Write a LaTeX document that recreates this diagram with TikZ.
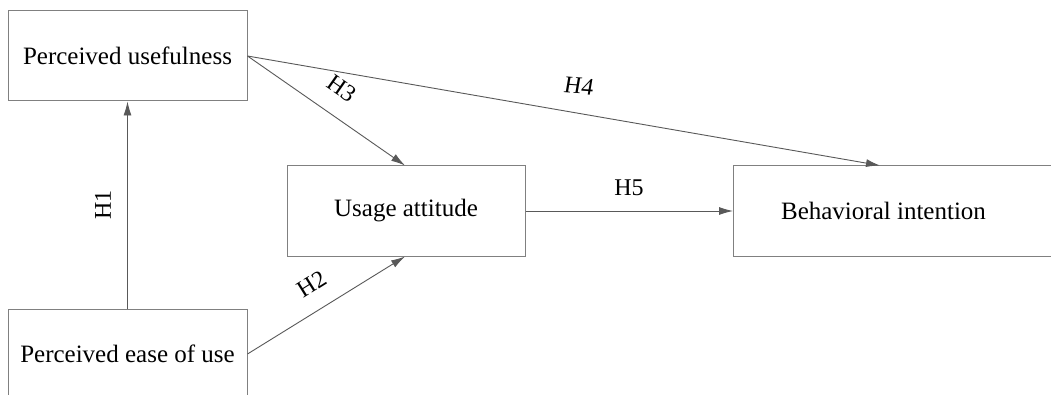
\documentclass[tikz,border=0pt]{standalone}
\usepackage{fontspec}
\setmainfont{Liberation Serif}
\usetikzlibrary{arrows.meta}
\begin{document}
\begin{tikzpicture}[x=1pt,y=-1pt,
  box/.style={draw=black!50,line width=1pt,minimum width=239pt,minimum height=90pt,inner sep=0pt,font=\fontsize{25}{30}\selectfont},
  conn/.style={draw=black!65,line width=0.9pt,-{Latex[length=14pt,width=8pt]}},
  lab/.style={font=\fontsize{24}{29}\selectfont,inner sep=0pt}]
\useasboundingbox (0,0) rectangle (1051,395);
\clip (0,0) rectangle (1051,395);
\fill[white] (0,0) rectangle (1051,395);
\node[box] (PU) at (127.5,56) {Perceived usefulness};
\node[box] (PEU) at (127.5,354) {Perceived ease of use};
\node[box,minimum width=238pt] (UA) at (406,211) {Usage attitude};
\node[box,minimum width=360pt,anchor=west] (BI) at (733,211) {};
\node[lab,font=\fontsize{25}{30}\selectfont] (BIt) at (883.5,211) {Behavioral intention};
\coordinate (BItop) at ([xshift=147pt]BI.north west);
\coordinate (PEUtop) at (PEU.north);
\coordinate (PUbot) at (PU.south);
\draw[conn] (PEUtop) -- (PUbot);
\draw[conn] (PU.east) -- ([xshift=-1pt]UA.north);
\draw[conn] (PEU.east) -- ([xshift=-1pt]UA.south);
\draw[conn] (PU.east) -- (BItop);
\draw[conn] (UA.east) -- (BI.west);
\node[lab,rotate=90] (H1) at (103,205) {H1};
\node[lab,rotate=-35] (H3) at (342,89) {H3};
\node[lab,rotate=32] (H2) at (312,284) {H2};
\node[lab,rotate=-4,xslant=0.1] (H4) at (579,86) {H4};
\node[lab] (H5) at (629,188) {H5};
\end{tikzpicture}
\end{document}
